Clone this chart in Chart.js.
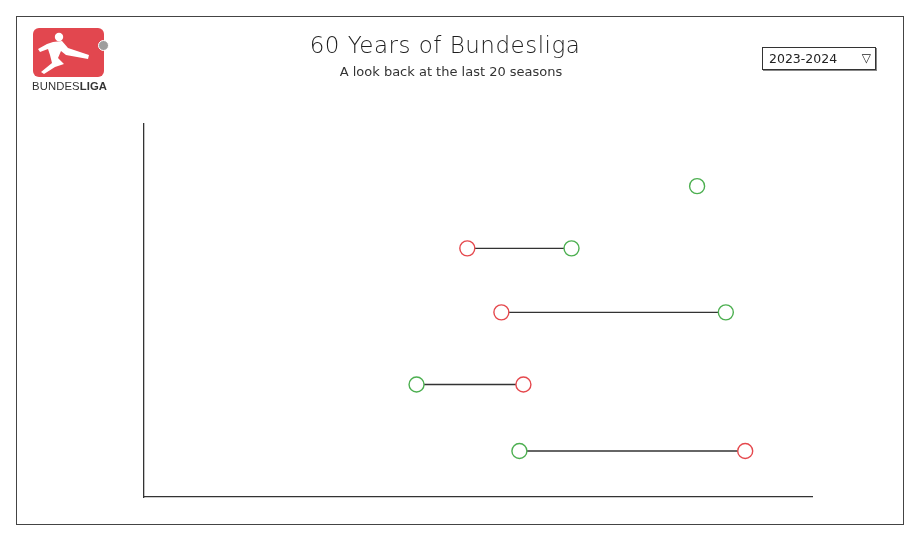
<!DOCTYPE html>
<html>
<head>
<meta charset="utf-8">
<script src="https://cdn.jsdelivr.net/npm/chart.js@4"></script>
<style>
  html, body { margin: 0; padding: 0; background: #fff; }
  body { width: 919px; height: 541px; position: relative; overflow: hidden; font-family: "DejaVu Sans", sans-serif; }
  #frame { position: absolute; left: 16px; top: 16px; width: 888px; height: 509px; border: 1px solid #444; box-sizing: border-box; }
  #chartWrap { position: absolute; left: 0; top: 0; width: 919px; height: 541px; }
  #title { position: absolute; left: 245px; width: 400px; top: 32px; text-align: center; font-size: 23px; color: #1e1e1e; letter-spacing: 0.5px; font-family: "DejaVu Sans", sans-serif; font-weight: 300; }
  #subtitle { position: absolute; left: 251px; width: 400px; top: 64px; text-align: center; font-size: 13px; color: #333; font-weight: normal; }
  #logo { position: absolute; left: 33px; top: 28px; width: 71px; height: 49px; background: #e2474f; border-radius: 6px; }
  #logoDot { position: absolute; left: 98px; top: 40px; width: 11px; height: 11px; border-radius: 50%; background: #9d9d9d; border: 1.5px solid #fff; box-sizing: border-box; }
  #logoText { position: absolute; left: 32px; top: 80px; font-size: 11.3px; color: #333; font-family: "Liberation Sans", sans-serif; letter-spacing: 0.1px; }
  #logoText b { font-weight: bold; }
  #dropdown { position: absolute; left: 762px; top: 47px; width: 114px; height: 23px; border: 1.3px solid #333; box-sizing: border-box; font-size: 12.5px; color: #222; line-height: 21px; padding-left: 6px; box-shadow: 1px 1px 0 #888; }
  #dropdown span.arrow { position: absolute; right: 4px; top: 0px; font-size: 12px; }
</style>
</head>
<body>
<div id="frame"></div>
<div id="chartWrap"><canvas id="c" width="919" height="541"></canvas></div>
<div id="logo">
  <svg width="71" height="49" viewBox="0 0 71 49">
    <circle cx="26" cy="9" r="4.2" fill="#fff"/>
    <path d="M20 14 L29 13 L35 20 L56 27 L55 31 L33 27 L28 23 L25 30 L31 36 L22 39 L11 46 L8 44 L19 35 L17 27 L15 21 L7 24 L5 21 L14 16 Z" fill="#fff"/>
  </svg>
</div>
<div id="logoDot"></div>
<div id="logoText">BUNDES<b>LIGA</b></div>
<div id="title">60 Years of Bundesliga</div>
<div id="subtitle">A look back at the last 20 seasons</div>
<div id="dropdown">2023-2024<span class="arrow">▽</span></div>
<script>
// Row positions (vertical) and the two series values (horizontal)
const rows = ["Row 1", "Row 2", "Row 3", "Row 4", "Row 5"];
const rowPositions = [5.0, 4.0, 2.97, 1.81, 0.74];
const redValues = [null, 48.4, 53.5, 56.8, 90.0];
const greenValues = [82.8, 64.0, 87.1, 40.8, 56.2];

const red = "#e5484d";
const green = "#4caf50";

const connectorSets = rows.map((r, i) => {
  if (redValues[i] === null || greenValues[i] === null) return null;
  return {
    type: "scatter",
    label: r + " link",
    data: [{ x: redValues[i], y: rowPositions[i] }, { x: greenValues[i], y: rowPositions[i] }],
    showLine: true,
    borderColor: "#333",
    borderWidth: 1.3,
    pointRadius: 0,
    order: 3
  };
}).filter(Boolean);

const redPoints = rows.map((r, i) => redValues[i] === null ? null : { x: redValues[i], y: rowPositions[i] }).filter(Boolean);
const greenPoints = rows.map((r, i) => ({ x: greenValues[i], y: rowPositions[i] }));

new Chart(document.getElementById("c"), {
  type: "scatter",
  data: {
    datasets: [
      ...connectorSets,
      { label: "Red", data: redPoints, pointRadius: 7.5, pointBorderWidth: 1.4, pointBorderColor: red, pointBackgroundColor: "#fff", order: 1 },
      { label: "Green", data: greenPoints, pointRadius: 7.5, pointBorderWidth: 1.4, pointBorderColor: green, pointBackgroundColor: "#fff", order: 1 }
    ]
  },
  options: {
    responsive: false,
    animation: false,
    layout: { padding: { left: 144, right: 107, top: 124, bottom: 44 } },
    plugins: { legend: { display: false }, tooltip: { enabled: false } },
    scales: {
      x: {
        type: "linear", min: 0, max: 100,
        ticks: { display: false },
        grid: { display: false, drawTicks: false },
        border: { display: true, color: "#333", width: 1.3 }
      },
      y: {
        type: "linear", min: 0, max: 6,
        ticks: { display: false },
        grid: { display: false, drawTicks: false },
        border: { display: true, color: "#333", width: 1.3 }
      }
    }
  }
});
</script>
</body>
</html>
